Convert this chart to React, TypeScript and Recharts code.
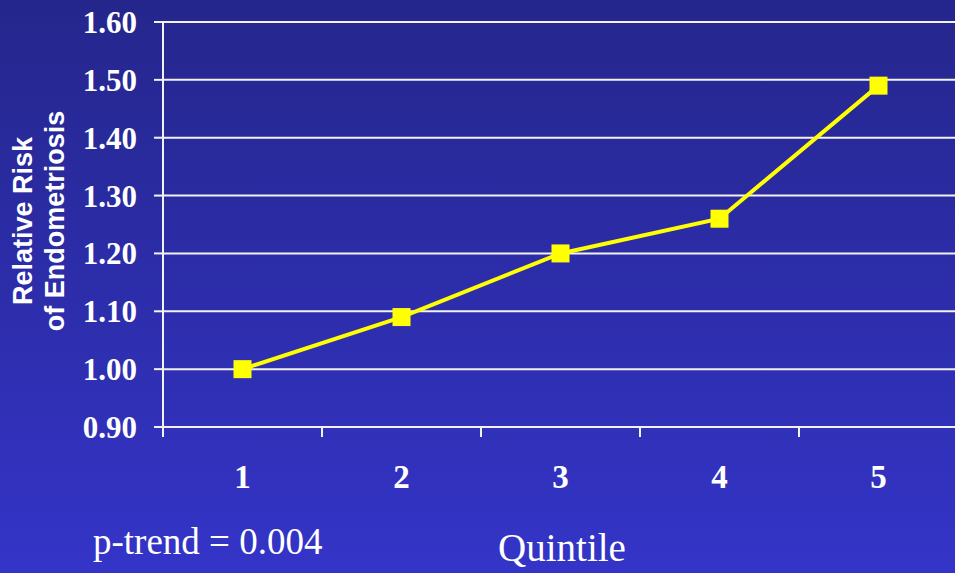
import React from 'react'
import {
  LineChart,
  Line,
  XAxis,
  YAxis,
  CartesianGrid,
} from 'recharts'

const quintiles = [1, 2, 3, 4, 5]
const relativeRisk = [1.0, 1.09, 1.2, 1.26, 1.49]
const yTicks = [0.9, 1.0, 1.1, 1.2, 1.3, 1.4, 1.5, 1.6]
const bandEdges = [0.5, 1.5, 2.5, 3.5, 4.5, 5.5]

const data = quintiles.map((q, i) => ({ q, rr: relativeRisk[i] }))

const serif = '"Liberation Serif", "Times New Roman", serif'
const line = '#f2f2f2'

function SquareDot(props: any) {
  const { cx, cy } = props
  if (cx == null || cy == null) return null
  return <rect x={cx - 9} y={cy - 9} width={18} height={18} fill="#ffff00" />
}

export default function App() {
  return (
    <div style={styles.page}>
      <LineChart
        width={1000}
        height={573}
        data={data}
        margin={{ top: 22, right: 42, bottom: 76, left: 103 }}
      >
        <CartesianGrid
          xAxisId="q"
          vertical={false}
          stroke={line}
          strokeWidth={2}
        />
        {/* tick marks sit on the band edges */}
        <XAxis
          xAxisId="edge"
          dataKey="q"
          type="number"
          scale="linear"
          domain={[0.5, 5.5]}
          ticks={bandEdges}
          interval={0}
          height={10}
          tickFormatter={() => ''}
          tickSize={10}
          tickMargin={0}
          stroke={line}
          axisLine={{ stroke: line, strokeWidth: 2 }}
          tickLine={{ stroke: line, strokeWidth: 2 }}
        />
        <XAxis
          xAxisId="q"
          dataKey="q"
          type="number"
          domain={[0.5, 5.5]}
          ticks={quintiles}
          interval={0}
          height={60}
          axisLine={false}
          tickLine={false}
          tickSize={0}
          tickMargin={28}
          tick={{ fill: '#ffffff', fontSize: 33, fontWeight: 700, fontFamily: serif }}
        />
        <YAxis
          width={60}
          type="number"
          domain={[0.9, 1.6]}
          ticks={yTicks}
          tickFormatter={(v: number) => v.toFixed(2)}
          tickSize={9}
          tickMargin={17}
          stroke={line}
          axisLine={{ stroke: line, strokeWidth: 2 }}
          tickLine={{ stroke: line, strokeWidth: 2 }}
          tick={{ fill: '#ffffff', fontSize: 31, fontWeight: 700, fontFamily: serif }}
          allowDataOverflow
        />
        <Line
          xAxisId="q"
          dataKey="rr"
          stroke="#ffff00"
          strokeWidth={4}
          dot={<SquareDot />}
          activeDot={false}
          isAnimationActive={false}
        />
      </LineChart>

      <div style={styles.yTitle}>
        <div>Relative Risk</div>
        <div>of Endometriosis</div>
      </div>
      <div style={styles.pTrend}>p-trend = 0.004</div>
      <div style={styles.xTitle}>Quintile</div>
    </div>
  )
}

const styles: Record<string, React.CSSProperties> = {
  page: {
    position: 'fixed',
    left: 0,
    top: 0,
    width: 955,
    height: 573,
    overflow: 'hidden',
    background: 'linear-gradient(to bottom, #25268c, #3434c8)',
  },
  yTitle: {
    position: 'absolute',
    left: 39,
    top: 221,
    width: 260,
    marginLeft: -130,
    marginTop: -32,
    transform: 'rotate(-90deg)',
    textAlign: 'center',
    color: '#ffffff',
    fontFamily: '"Liberation Sans", Arial, sans-serif',
    fontWeight: 700,
    fontSize: 27,
    lineHeight: '32px',
  },
  pTrend: {
    position: 'absolute',
    left: 93,
    top: 521,
    color: '#ffffff',
    fontFamily: serif,
    fontSize: 37,
    lineHeight: '42px',
    whiteSpace: 'nowrap',
  },
  xTitle: {
    position: 'absolute',
    left: 562,
    top: 525,
    transform: 'translateX(-50%)',
    color: '#ffffff',
    fontFamily: serif,
    fontSize: 39,
    lineHeight: '46px',
    whiteSpace: 'nowrap',
  },
}
